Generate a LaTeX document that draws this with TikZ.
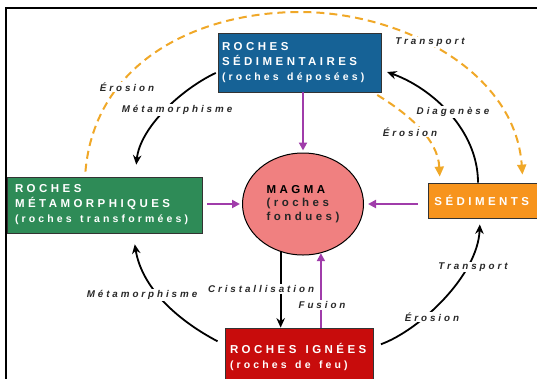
\documentclass[tikz,border=0pt]{standalone}
\usepackage{fontspec}
\setmainfont{Liberation Sans}
\newfontfamily\boxfont[LetterSpace=30]{Liberation Sans}
\newfontfamily\lblfont[LetterSpace=30]{Liberation Sans}
\usetikzlibrary{arrows.meta,shapes.geometric}
\definecolor{sedblue}{RGB}{22,98,150}
\definecolor{metgreen}{RGB}{46,139,87}
\definecolor{ignred}{RGB}{200,12,12}
\definecolor{sedorange}{RGB}{247,148,29}
\definecolor{magmapink}{RGB}{240,128,128}
\definecolor{arrpurple}{RGB}{160,60,170}
\definecolor{dashorange}{RGB}{240,168,40}
\definecolor{lbl}{RGB}{40,40,40}
\tikzset{
  rockbox/.style={draw=black!80, line width=0.8pt, text=white, align=left,
    inner ysep=0pt, font=\boxfont\bfseries\fontsize{11.5}{15}\selectfont},
  blk/.style={draw=black, line width=1.8pt, -{Stealth[length=9.5pt,width=8.5pt]}},
  purp/.style={draw=arrpurple, line width=2pt, -{Triangle[length=8pt,width=8pt]}},
  orng/.style={draw=dashorange, line width=2pt, dash pattern=on 8pt off 5pt,
    -{Triangle[length=10pt,width=9pt]}},
  lab/.style={fill=white, inner sep=1pt, text=lbl,
    font=\lblfont\bfseries\itshape\fontsize{9.8}{11}\selectfont},
}
\newcommand{\lowline}[1]{{\fontsize{10.5}{15}\selectfont #1}}
\newcommand{\wsp}{\hspace{0.8em}}
\begin{document}
\begin{tikzpicture}[x=1pt,y=-1pt]
\useasboundingbox (0,0) rectangle (537,378);

% frame
\draw[line width=1.5pt] (6,385) -- (6,8) -- (545,8);

% boxes
\node[rockbox, fill=sedblue, inner xsep=4pt, text width=155pt, minimum height=59pt]
  (sed) at (299.5,62.5) {\mbox{ROCHES}\\\mbox{SÉDIMENTAIRES}\\\mbox{\lowline{(roches\wsp déposées)}}};
\node[rockbox, fill=metgreen, inner xsep=8pt, text width=179pt, minimum height=56pt]
  (meta) at (104.5,205) {\mbox{ROCHES}\\\mbox{MÉTAMORPHIQUES}\\\mbox{\lowline{(roches\wsp transformées)}}};
\node[rockbox, fill=ignred, inner xsep=5pt, text width=138pt, minimum height=57pt]
  (ign) at (299,356.5) {\mbox{ROCHES\wsp IGNÉES}\\\mbox{\lowline{(roches\wsp de\wsp feu)}}};
\node[rockbox, fill=sedorange, inner xsep=6pt, text width=110pt, minimum height=35pt, anchor=west]
  (sedi) at (428,200.5) {\mbox{SÉDIMENTS}};
\node[ellipse, draw=black, line width=1pt, fill=magmapink, minimum width=121pt,
  minimum height=102pt, inner sep=0pt, align=left, text=black!85,
  font=\boxfont\bfseries\fontsize{11.5}{13.5}\selectfont]
  (magma) at (303,204) {\textcolor{black}{MAGMA}\\(roches\\fondues)};

% orange dashed
\draw[orng, shorten <=5pt, shorten >=8pt] (meta.north -| 85,0) .. controls (95,60) and (200,12) .. (300,12)
   .. controls (400,12) and (515,70) .. (sedi.north -| 523,0);
\draw[orng, shorten <=5pt, shorten >=6pt] (sed.south -| 373,0) .. controls (410,115) and (438,140) .. (sedi.north -| 440,0);

% black curved arrows
\draw[blk, shorten <=2pt, shorten >=12pt] (sed.west |- 0,72) .. controls (180,90) and (140,128) .. (meta.north -| 135,0);
\draw[blk, shorten <=8pt, shorten >=11pt] (ign.west |- 0,345) .. controls (179,321) and (142,289) .. (meta.south -| 133,0);
\draw[blk, shorten <=8pt, shorten >=6pt] (ign.east |- 0,347) .. controls (420,330) and (478,275) .. (sedi.south -| 480,0);
\draw[blk, shorten >=6pt] (sedi.north -| 478,0) .. controls (478,130) and (432,88) .. (sed.east |- 0,70);

% purple and straight arrows
\draw[purp, shorten >=2pt] (sed.south -| magma.north) -- (magma.north);
\draw[purp, shorten <=5pt, shorten >=2pt] (meta.east |- magma.west) -- (magma.west);
\draw[purp, shorten <=10pt, shorten >=4pt] (sedi.west |- magma.east) -- (magma.east);
\draw[purp] (magma.290 |- ign.north) -- (magma.290);
\draw[blk] (magma.245) -- (magma.245 |- ign.north);

% labels
\node[lab] (l1) at (430,42) {Transport};
\node[lab] (l2) at (127,87) {Érosion};
\node[lab] (l3) at (177,110) {Métamorphisme};
\node[lab] (l4) at (453,112) {Diagenèse};
\node[lab] (l5) at (410,132) {Érosion};
\node[lab] (l6) at (261,289) {Cristallisation};
\node[lab] (l7) at (322,305) {Fusion};
\node[lab] (l8) at (473,267) {Transport};
\node[lab] (l9) at (432,317) {Érosion};
\node[lab] (l10) at (142,295) {Métamorphisme};
\end{tikzpicture}
\end{document}
